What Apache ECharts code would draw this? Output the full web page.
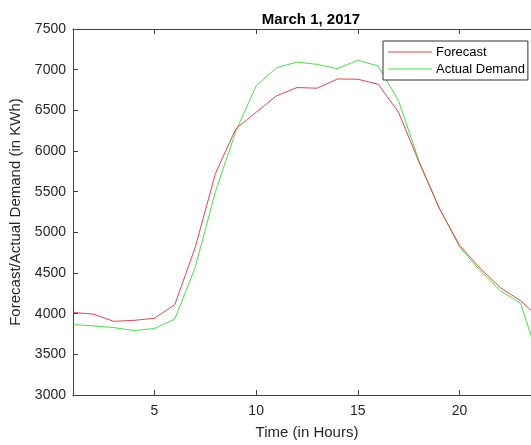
<!DOCTYPE html>
<html>
<head>
<meta charset="utf-8">
<script src="https://cdn.jsdelivr.net/npm/echarts@6/dist/echarts.min.js"></script>
<style>
  html, body { margin: 0; padding: 0; background: #ffffff; overflow: hidden; }
  /* the plot box runs slightly past the right edge of the window */
  #chart { width: 545px; height: 445px; }
</style>
</head>
<body>
<div id="chart"></div>
<script>
// Hourly demand for March 1, 2017
const hours = [1, 2, 3, 4, 5, 6, 7, 8, 9, 10, 11, 12, 13, 14, 15, 16, 17, 18, 19, 20, 21, 22, 23, 24];
const forecast = [4015, 3995, 3906, 3918, 3943, 4110, 4809, 5723, 6272, 6476, 6678, 6780, 6772, 6886, 6882, 6821, 6476, 5866, 5296, 4840, 4560, 4321, 4158, 3930];
const actual = [3866, 3850, 3829, 3793, 3817, 3934, 4565, 5500, 6240, 6800, 7024, 7093, 7065, 7012, 7117, 7044, 6617, 5880, 5300, 4820, 4530, 4284, 4126, 3350];
const xTicks = [5, 10, 15, 20];

const FONT = '"Liberation Sans", Arial, Helvetica, sans-serif';
const AXIS = '#404040';
const TEXT = '#262626';

const chart = echarts.init(document.getElementById('chart'));

const pairs = (ys) => hours.map((h, i) => [h, ys[i]]);

chart.setOption({
  animation: false,
  backgroundColor: '#ffffff',
  title: {
    text: 'March 1, 2017',
    left: 306,
    textAlign: 'center',
    top: 7,
    textStyle: { fontFamily: FONT, fontSize: 15, fontWeight: 'bold', color: '#000000' }
  },
  legend: {
    orient: 'vertical',
    left: 383,
    top: 41,
    padding: [4, 3, 4, 5],
    itemGap: 3,
    itemWidth: 44,
    itemHeight: 1,
    icon: 'rect',
    borderColor: '#333333',
    borderWidth: 1,
    borderRadius: 0,
    backgroundColor: '#ffffff',
    textStyle: { fontFamily: FONT, fontSize: 13, color: '#000000', lineHeight: 14, padding: [0, 0, 0, -1] },
    data: ['Forecast', 'Actual Demand']
  },
  grid: { left: 71, top: 29, right: 4, bottom: 47, containLabel: false },
  xAxis: [{
    type: 'value',
    min: 1,
    max: 24,
    name: 'Time (in Hours)',
    nameLocation: 'middle',
    nameGap: 30,
    nameTextStyle: { fontFamily: FONT, fontSize: 15, color: TEXT },
    axisLine: { show: true, lineStyle: { color: AXIS, width: 1 } },
    axisTick: { show: true, inside: true, length: 5, customValues: xTicks, lineStyle: { color: AXIS } },
    axisLabel: { customValues: xTicks, margin: 9, fontFamily: FONT, fontSize: 14, color: TEXT },
    splitLine: { show: false }
  }, {
    type: 'value',
    position: 'top',
    min: 1,
    max: 24,
    axisLine: { show: true, onZero: false, lineStyle: { color: AXIS, width: 1 } },
    axisTick: { show: true, inside: true, length: 5, customValues: xTicks, lineStyle: { color: AXIS } },
    axisLabel: { show: false },
    splitLine: { show: false }
  }],
  yAxis: {
    type: 'value',
    min: 3000,
    max: 7500,
    interval: 500,
    name: 'Forecast/Actual Demand (in KWh)',
    nameLocation: 'middle',
    nameGap: 50,
    nameTextStyle: { fontFamily: FONT, fontSize: 15, color: TEXT },
    axisLine: { show: true, lineStyle: { color: AXIS, width: 1 } },
    axisTick: { show: true, inside: true, length: 5, lineStyle: { color: AXIS } },
    axisLabel: { margin: 7, fontFamily: FONT, fontSize: 14, color: TEXT, formatter: (v) => String(v) },
    splitLine: { show: false }
  },
  series: [{
    name: 'Forecast',
    type: 'line',
    data: pairs(forecast),
    symbol: 'none',
    lineStyle: { color: '#e8434f', width: 1 },
    itemStyle: { color: '#e8434f' },
    z: 3
  }, {
    name: 'Actual Demand',
    type: 'line',
    data: pairs(actual),
    symbol: 'none',
    lineStyle: { color: '#45e245', width: 1 },
    itemStyle: { color: '#45e245' },
    z: 2
  }]
});
</script>
</body>
</html>
